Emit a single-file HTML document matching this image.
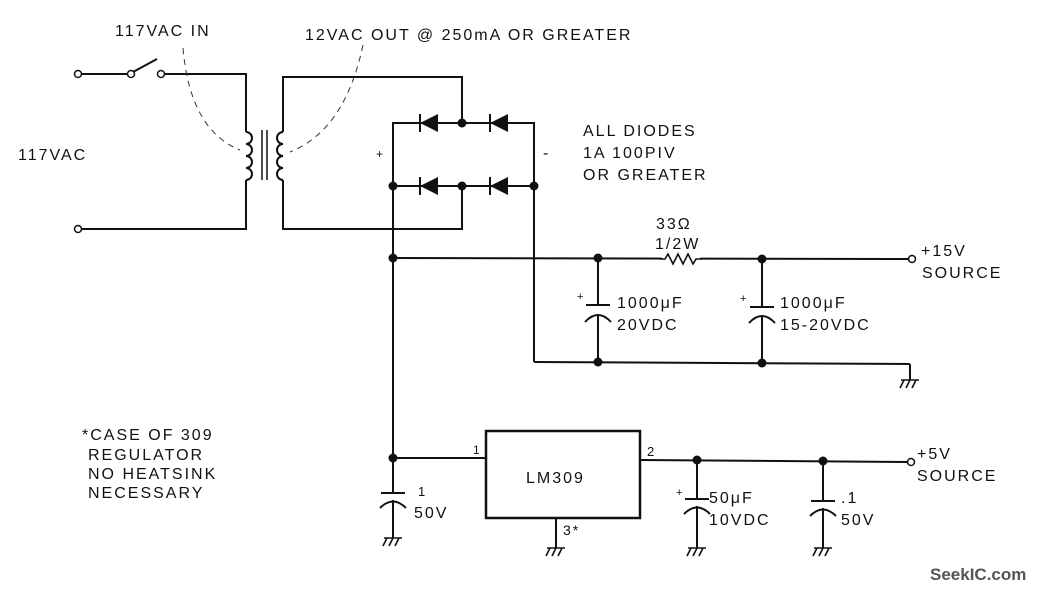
<!DOCTYPE html>
<html><head><meta charset="utf-8"><style>
html,body{margin:0;padding:0;background:#fff;}
svg{display:block}
text{font-family:"Liberation Sans",sans-serif;font-size:16px;fill:#111;letter-spacing:2px}
</style></head><body>
<svg width="1043" height="592" viewBox="0 0 1043 592" xmlns="http://www.w3.org/2000/svg">
<defs>
<g id="gnd" stroke="#111" stroke-width="1.6" fill="none">
<line x1="-9" y1="0" x2="9" y2="0"/>
<line x1="-6" y1="0" x2="-10" y2="8"/>
<line x1="0" y1="0" x2="-4" y2="8"/>
<line x1="6" y1="0" x2="2" y2="8"/>
</g>
<g id="dio">
<line x1="0" y1="-9" x2="0" y2="9" stroke="#111" stroke-width="2"/>
<polygon points="0,0 18,-9 18,9" fill="#111"/>
</g>
</defs>
<g stroke="#111" stroke-width="2" fill="none">
<!-- primary -->
<line x1="81" y1="74" x2="128" y2="74"/>
<line x1="133" y1="72" x2="157" y2="59"/>
<polyline points="164,74 246,74 246,132"/>
<path d="M246,132 a6,6 0 0 1 0,12 a6,6 0 0 1 0,12 a6,6 0 0 1 0,12 a6,6 0 0 1 0,12"/>
<polyline points="246,180 246,229 81,229"/>
<line x1="262" y1="130" x2="262" y2="180" stroke-width="1.5"/>
<line x1="267" y1="130" x2="267" y2="180" stroke-width="1.5"/>
<!-- secondary -->
<path d="M283,132 a6,6 0 0 0 0,12 a6,6 0 0 0 0,12 a6,6 0 0 0 0,12 a6,6 0 0 0 0,12"/>
<polyline points="283,132 283,77 462,77 462,123"/>
<polyline points="283,180 283,229 462,229 462,186"/>
<!-- bridge -->
<polyline points="534,186 534,123 393,123 393,186"/>
<line x1="393" y1="186" x2="534" y2="186"/>
<!-- rails -->
<line x1="393" y1="186" x2="393" y2="490"/>
<line x1="534" y1="186" x2="534" y2="362"/>
<line x1="393" y1="258" x2="908" y2="259"/>
<line x1="534" y1="362" x2="910" y2="364"/>
<line x1="910" y1="364" x2="910" y2="380"/>
<!-- caps 15V -->
<line x1="598" y1="258" x2="598" y2="305"/>
<line x1="586" y1="305" x2="610" y2="305"/>
<path d="M585,322 Q598,308 611,322"/>
<line x1="598" y1="314" x2="598" y2="362"/>
<line x1="762" y1="259" x2="762" y2="307"/>
<line x1="750" y1="307" x2="774" y2="307"/>
<path d="M749,323 Q762,309 775,323"/>
<line x1="762" y1="315" x2="762" y2="363"/>
<!-- LM309 -->
<rect x="486" y="431" width="154" height="87" stroke-width="2.5"/>
<line x1="393" y1="458" x2="486" y2="458"/>
<line x1="640" y1="460" x2="908" y2="462"/>
<line x1="556" y1="518" x2="556" y2="548"/>
<line x1="393" y1="458" x2="393" y2="493"/>
<line x1="381" y1="493" x2="405" y2="493"/>
<path d="M380,508 Q393,495 406,508"/>
<line x1="393" y1="500" x2="393" y2="538"/>
<line x1="697" y1="460" x2="697" y2="499"/>
<line x1="685" y1="499" x2="709" y2="499"/>
<path d="M684,514 Q697,501 710,514"/>
<line x1="697" y1="506" x2="697" y2="548"/>
<line x1="823" y1="461" x2="823" y2="501"/>
<line x1="811" y1="501" x2="835" y2="501"/>
<path d="M810,516 Q823,503 836,516"/>
<line x1="823" y1="508" x2="823" y2="548"/>
</g>
<!-- resistor -->
<rect x="662" y="252" width="38" height="12" fill="#fff"/>
<polyline points="660,259 665,259 668,254 673,264 678,254 683,264 688,254 693,264 696,259 702,259" fill="none" stroke="#111" stroke-width="1.6"/>
<!-- diodes -->
<use href="#dio" x="420" y="123"/><use href="#dio" x="490" y="123"/>
<use href="#dio" x="420" y="186"/><use href="#dio" x="490" y="186"/>
<!-- dots -->
<g fill="#111">
<circle cx="462" cy="123" r="4.5"/><circle cx="393" cy="186" r="4.5"/><circle cx="462" cy="186" r="4.5"/><circle cx="534" cy="186" r="4.5"/>
<circle cx="393" cy="258" r="4.5"/><circle cx="598" cy="258" r="4.5"/><circle cx="762" cy="259" r="4.5"/>
<circle cx="598" cy="362" r="4.5"/><circle cx="762" cy="363" r="4.5"/>
<circle cx="393" cy="458" r="4.5"/><circle cx="697" cy="460" r="4.5"/><circle cx="823" cy="461" r="4.5"/>
</g>
<g fill="#fff" stroke="#111" stroke-width="1.5">
<circle cx="78" cy="74" r="3.5"/><circle cx="131" cy="74" r="3.5"/><circle cx="161" cy="74" r="3.5"/><circle cx="78" cy="229" r="3.5"/>
<circle cx="912" cy="259" r="3.5"/><circle cx="911" cy="462" r="3.5"/>
</g>
<!-- grounds -->
<use href="#gnd" x="910" y="380"/><use href="#gnd" x="393" y="538"/><use href="#gnd" x="556" y="548"/>
<use href="#gnd" x="697" y="548"/><use href="#gnd" x="823" y="548"/>
<!-- dashed leaders -->
<g stroke="#333" stroke-width="1" fill="none" stroke-dasharray="6,5">
<path d="M183,48 Q190,130 240,150"/>
<path d="M363,45 Q345,130 290,152"/>
</g>
<!-- text -->
<text x="115" y="36">117VAC IN</text>
<text x="305" y="40">12VAC OUT @ 250mA OR GREATER</text>
<text x="18" y="160">117VAC</text>
<text x="376" y="158" style="font-size:12px">+</text>
<text x="543" y="158">-</text>
<text x="583" y="136">ALL DIODES</text>
<text x="583" y="158">1A 100PIV</text>
<text x="583" y="180">OR GREATER</text>
<text x="656" y="229">33Ω</text>
<text x="655" y="249">1/2W</text>
<text x="921" y="256">+15V</text>
<text x="922" y="278">SOURCE</text>
<text x="577" y="300" style="font-size:11px">+</text>
<text x="617" y="308">1000μF</text>
<text x="617" y="330">20VDC</text>
<text x="740" y="302" style="font-size:11px">+</text>
<text x="780" y="308">1000μF</text>
<text x="780" y="330">15-20VDC</text>
<text x="82" y="440">*CASE OF 309</text>
<text x="88" y="460">REGULATOR</text>
<text x="88" y="479">NO HEATSINK</text>
<text x="88" y="498">NECESSARY</text>
<text x="473" y="454" style="font-size:12px">1</text>
<text x="647" y="456" style="font-size:13px">2</text>
<text x="526" y="483">LM309</text>
<text x="563" y="535" style="font-size:14px">3*</text>
<text x="418" y="496" style="font-size:13px">1</text>
<text x="414" y="518">50V</text>
<text x="676" y="496" style="font-size:11px">+</text>
<text x="709" y="503">50μF</text>
<text x="709" y="525">10VDC</text>
<text x="841" y="503">.1</text>
<text x="841" y="525">50V</text>
<text x="917" y="459">+5V</text>
<text x="917" y="481">SOURCE</text>
<text x="930" y="580" style="font-size:17px;font-weight:bold;fill:#555;letter-spacing:0">SeekIC.com</text>
</svg>
</body></html>
